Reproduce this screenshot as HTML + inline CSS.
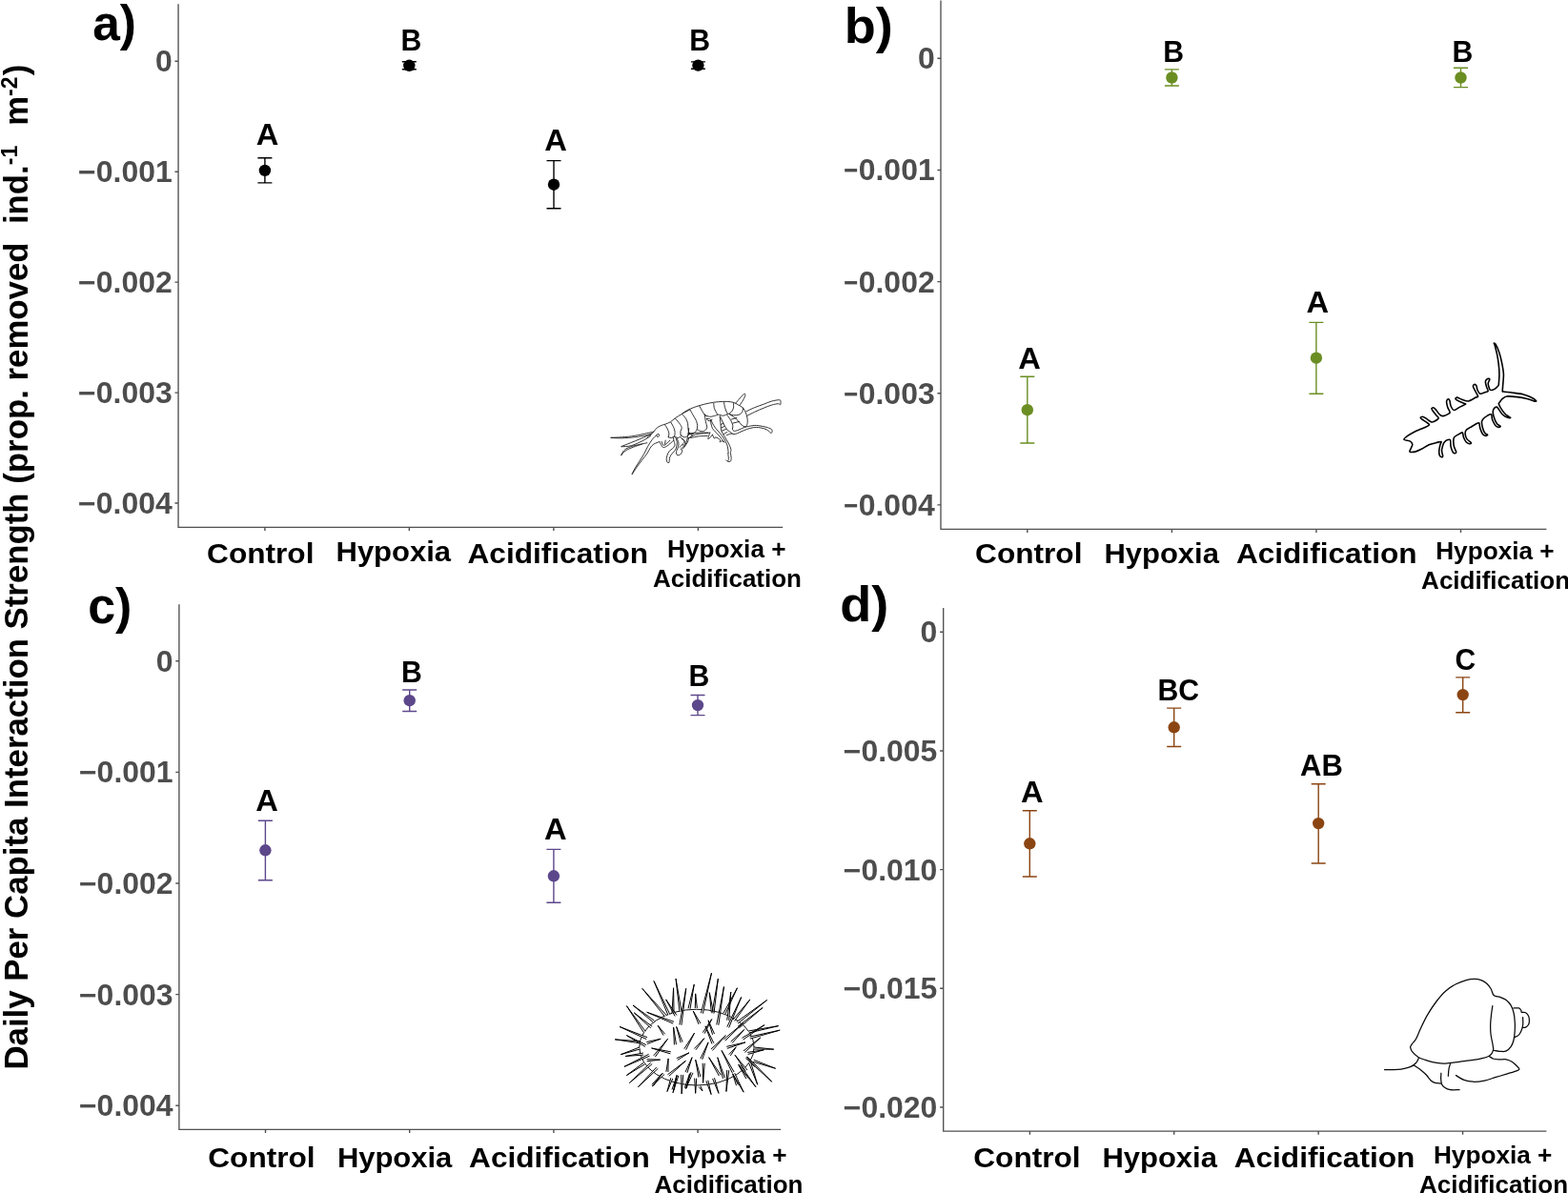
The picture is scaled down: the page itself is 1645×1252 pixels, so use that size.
<!DOCTYPE html>
<html lang="en"><head><meta charset="utf-8"><title>Figure</title>
<style>
html,body{margin:0;padding:0;background:#fff;}
body{width:1645px;height:1252px;overflow:hidden;position:relative;}
svg{position:absolute;left:0;top:0;display:block;}
svg text{font-family:"Liberation Sans",Arial,Helvetica,sans-serif;font-weight:bold;}
</style></head><body>
<svg width="1645" height="1252" viewBox="0 0 1645 1252">
<g><path d="M187.05,4.3V553.35H821.2" fill="none" stroke="#505050" stroke-width="1.35"/>
<path d="M183.45000000000002,64.3H187.05M183.45000000000002,180.2H187.05M183.45000000000002,296.1H187.05M183.45000000000002,412.1H187.05M183.45000000000002,528.05H187.05M277.9,553.35V556.95M429.35,553.35V556.95M580.85,553.35V556.95M732.4,553.35V556.95" fill="none" stroke="#505050" stroke-width="1.4"/>
<text transform="translate(180.75,75.30) scale(1.045,1)" font-size="30.6" text-anchor="end" fill="#4d4d4d">0</text>
<text transform="translate(180.75,191.20) scale(1.045,1)" font-size="30.6" text-anchor="end" fill="#4d4d4d">−0.001</text>
<text transform="translate(180.75,307.10) scale(1.045,1)" font-size="30.6" text-anchor="end" fill="#4d4d4d">−0.002</text>
<text transform="translate(180.75,423.10) scale(1.045,1)" font-size="30.6" text-anchor="end" fill="#4d4d4d">−0.003</text>
<text transform="translate(180.75,539.05) scale(1.045,1)" font-size="30.6" text-anchor="end" fill="#4d4d4d">−0.004</text>
<text transform="translate(273.25,590.85) scale(1.05,1)" font-size="30.1" text-anchor="middle" fill="#000">Control</text>
<text transform="translate(412.75,589.10) scale(1.029,1)" font-size="30.1" text-anchor="middle" fill="#000">Hypoxia</text>
<text transform="translate(585.35,591.00) scale(1.05,1)" font-size="30.1" text-anchor="middle" fill="#000">Acidification</text>
<text transform="translate(762.30,584.70) scale(1.048,1)" font-size="25" text-anchor="middle" fill="#000">Hypoxia +</text>
<text transform="translate(763.00,615.50) scale(1.04,1)" font-size="25" text-anchor="middle" fill="#000">Acidification</text>
<path d="M277.9,165.8V191.9M270.4,165.8H285.4M270.4,191.9H285.4" fill="none" stroke="#000000" stroke-width="1.4"/>
<circle cx="277.9" cy="178.9" r="6.2" fill="#000000"/>
<path d="M429.3,64.8V72.7M421.8,64.8H436.8M421.8,72.7H436.8" fill="none" stroke="#000000" stroke-width="1.4"/>
<circle cx="429.3" cy="68.8" r="6.2" fill="#000000"/>
<path d="M581.0,168.6V218.7M573.5,168.6H588.5M573.5,218.7H588.5" fill="none" stroke="#000000" stroke-width="1.4"/>
<circle cx="581.0" cy="193.7" r="6.2" fill="#000000"/>
<path d="M732.4,64.9V72.2M724.9,64.9H739.9M724.9,72.2H739.9" fill="none" stroke="#000000" stroke-width="1.4"/>
<circle cx="732.4" cy="68.6" r="6.2" fill="#000000"/>
<text transform="translate(280.50,151.60) scale(1.055,1)" font-size="31.0" text-anchor="middle" fill="#000">A</text>
<text transform="translate(431.35,53.40) scale(0.975,1)" font-size="31.0" text-anchor="middle" fill="#000">B</text>
<text transform="translate(583.00,158.00) scale(1.055,1)" font-size="31.0" text-anchor="middle" fill="#000">A</text>
<text transform="translate(734.05,53.20) scale(0.975,1)" font-size="31.0" text-anchor="middle" fill="#000">B</text>
<text transform="translate(97.25,42.35) scale(0.98,1)" font-size="52.5" text-anchor="start" fill="#000">a)</text></g>
<g><path d="M987.0,0.4V555.3H1622.4" fill="none" stroke="#505050" stroke-width="1.35"/>
<path d="M983.4,61.3H987.0M983.4,178.45H987.0M983.4,295.6H987.0M983.4,412.75H987.0M983.4,529.9H987.0M1077.8,555.3V558.9M1229.4,555.3V558.9M1380.95,555.3V558.9M1532.5,555.3V558.9" fill="none" stroke="#505050" stroke-width="1.4"/>
<text transform="translate(980.70,72.30) scale(1.045,1)" font-size="30.6" text-anchor="end" fill="#4d4d4d">0</text>
<text transform="translate(980.70,189.45) scale(1.045,1)" font-size="30.6" text-anchor="end" fill="#4d4d4d">−0.001</text>
<text transform="translate(980.70,306.60) scale(1.045,1)" font-size="30.6" text-anchor="end" fill="#4d4d4d">−0.002</text>
<text transform="translate(980.70,423.75) scale(1.045,1)" font-size="30.6" text-anchor="end" fill="#4d4d4d">−0.003</text>
<text transform="translate(980.70,540.90) scale(1.045,1)" font-size="30.6" text-anchor="end" fill="#4d4d4d">−0.004</text>
<rect x="874.2" y="158.45" width="12" height="391.45" fill="#fff"/>
<text transform="translate(1079.25,591.45) scale(1.05,1)" font-size="30.1" text-anchor="middle" fill="#000">Control</text>
<text transform="translate(1218.70,591.10) scale(1.029,1)" font-size="30.1" text-anchor="middle" fill="#000">Hypoxia</text>
<text transform="translate(1391.70,591.40) scale(1.05,1)" font-size="30.1" text-anchor="middle" fill="#000">Acidification</text>
<text transform="translate(1568.40,586.60) scale(1.048,1)" font-size="25" text-anchor="middle" fill="#000">Hypoxia +</text>
<text transform="translate(1569.10,617.60) scale(1.04,1)" font-size="25" text-anchor="middle" fill="#000">Acidification</text>
<path d="M1077.8,395.3V465.0M1070.3,395.3H1085.3M1070.3,465.0H1085.3" fill="none" stroke="#6b8e23" stroke-width="1.4"/>
<circle cx="1077.8" cy="430.2" r="6.2" fill="#6b8e23"/>
<path d="M1229.4,72.9V90.0M1221.9,72.9H1236.9M1221.9,90.0H1236.9" fill="none" stroke="#6b8e23" stroke-width="1.4"/>
<circle cx="1229.4" cy="81.5" r="6.2" fill="#6b8e23"/>
<path d="M1380.9,338.4V413.3M1373.4,338.4H1388.4M1373.4,413.3H1388.4" fill="none" stroke="#6b8e23" stroke-width="1.4"/>
<circle cx="1380.9" cy="375.7" r="6.2" fill="#6b8e23"/>
<path d="M1532.5,71.3V91.6M1525.0,71.3H1540.0M1525.0,91.6H1540.0" fill="none" stroke="#6b8e23" stroke-width="1.4"/>
<circle cx="1532.5" cy="81.5" r="6.2" fill="#6b8e23"/>
<text transform="translate(1080.10,386.80) scale(1.055,1)" font-size="31.0" text-anchor="middle" fill="#000">A</text>
<text transform="translate(1231.10,64.50) scale(0.975,1)" font-size="31.0" text-anchor="middle" fill="#000">B</text>
<text transform="translate(1382.35,328.00) scale(1.055,1)" font-size="31.0" text-anchor="middle" fill="#000">A</text>
<text transform="translate(1534.30,64.50) scale(0.975,1)" font-size="31.0" text-anchor="middle" fill="#000">B</text>
<text transform="translate(885.70,44.80) scale(1.03,1)" font-size="52.5" text-anchor="start" fill="#000">b)</text></g>
<g><path d="M187.9,634.3V1185.35H819.2" fill="none" stroke="#505050" stroke-width="1.35"/>
<path d="M184.3,693.8H187.9M184.3,810.4H187.9M184.3,927.0H187.9M184.3,1043.6H187.9M184.3,1160.2H187.9M278.5,1185.35V1188.9499999999998M429.7,1185.35V1188.9499999999998M580.9,1185.35V1188.9499999999998M732.1,1185.35V1188.9499999999998" fill="none" stroke="#505050" stroke-width="1.4"/>
<text transform="translate(181.60,704.80) scale(1.045,1)" font-size="30.6" text-anchor="end" fill="#4d4d4d">0</text>
<text transform="translate(181.60,821.40) scale(1.045,1)" font-size="30.6" text-anchor="end" fill="#4d4d4d">−0.001</text>
<text transform="translate(181.60,938.00) scale(1.045,1)" font-size="30.6" text-anchor="end" fill="#4d4d4d">−0.002</text>
<text transform="translate(181.60,1054.60) scale(1.045,1)" font-size="30.6" text-anchor="end" fill="#4d4d4d">−0.003</text>
<text transform="translate(181.60,1171.20) scale(1.045,1)" font-size="30.6" text-anchor="end" fill="#4d4d4d">−0.004</text>
<text transform="translate(274.45,1225.05) scale(1.05,1)" font-size="30.1" text-anchor="middle" fill="#000">Control</text>
<text transform="translate(414.10,1224.70) scale(1.029,1)" font-size="30.1" text-anchor="middle" fill="#000">Hypoxia</text>
<text transform="translate(586.90,1225.00) scale(1.05,1)" font-size="30.1" text-anchor="middle" fill="#000">Acidification</text>
<text transform="translate(763.45,1220.60) scale(1.048,1)" font-size="25" text-anchor="middle" fill="#000">Hypoxia +</text>
<text transform="translate(764.45,1251.70) scale(1.04,1)" font-size="25" text-anchor="middle" fill="#000">Acidification</text>
<path d="M278.4,861.2V923.8M270.9,861.2H285.9M270.9,923.8H285.9" fill="none" stroke="#5d478b" stroke-width="1.4"/>
<circle cx="278.4" cy="892.3" r="6.2" fill="#5d478b"/>
<path d="M429.7,724.0V746.5M422.2,724.0H437.2M422.2,746.5H437.2" fill="none" stroke="#5d478b" stroke-width="1.4"/>
<circle cx="429.7" cy="735.2" r="6.2" fill="#5d478b"/>
<path d="M580.9,891.4V947.2M573.4,891.4H588.4M573.4,947.2H588.4" fill="none" stroke="#5d478b" stroke-width="1.4"/>
<circle cx="580.9" cy="919.3" r="6.2" fill="#5d478b"/>
<path d="M732.0,729.5V750.6M724.5,729.5H739.5M724.5,750.6H739.5" fill="none" stroke="#5d478b" stroke-width="1.4"/>
<circle cx="732.0" cy="740.1" r="6.2" fill="#5d478b"/>
<text transform="translate(280.10,850.90) scale(1.055,1)" font-size="31.0" text-anchor="middle" fill="#000">A</text>
<text transform="translate(432.00,715.65) scale(0.975,1)" font-size="31.0" text-anchor="middle" fill="#000">B</text>
<text transform="translate(582.75,881.40) scale(1.055,1)" font-size="31.0" text-anchor="middle" fill="#000">A</text>
<text transform="translate(733.40,720.10) scale(0.975,1)" font-size="31.0" text-anchor="middle" fill="#000">B</text>
<text transform="translate(92.20,654.25) scale(0.99,1)" font-size="52.5" text-anchor="start" fill="#000">c)</text></g>
<g><path d="M989.7,638.1V1187.05H1622.4" fill="none" stroke="#505050" stroke-width="1.35"/>
<path d="M986.1,663.3H989.7M986.1,788.0H989.7M986.1,912.65H989.7M986.1,1037.3H989.7M986.1,1162.0H989.7M1080.4,1187.05V1190.6499999999999M1231.75,1187.05V1190.6499999999999M1383.15,1187.05V1190.6499999999999M1534.55,1187.05V1190.6499999999999" fill="none" stroke="#505050" stroke-width="1.4"/>
<text transform="translate(983.40,674.30) scale(1.045,1)" font-size="30.6" text-anchor="end" fill="#4d4d4d">0</text>
<text transform="translate(983.40,799.00) scale(1.045,1)" font-size="30.6" text-anchor="end" fill="#4d4d4d">−0.005</text>
<text transform="translate(983.40,923.65) scale(1.045,1)" font-size="30.6" text-anchor="end" fill="#4d4d4d">−0.010</text>
<text transform="translate(983.40,1048.30) scale(1.045,1)" font-size="30.6" text-anchor="end" fill="#4d4d4d">−0.015</text>
<text transform="translate(983.40,1173.00) scale(1.045,1)" font-size="30.6" text-anchor="end" fill="#4d4d4d">−0.020</text>
<text transform="translate(1077.45,1225.05) scale(1.05,1)" font-size="30.1" text-anchor="middle" fill="#000">Control</text>
<text transform="translate(1216.70,1224.70) scale(1.029,1)" font-size="30.1" text-anchor="middle" fill="#000">Hypoxia</text>
<text transform="translate(1389.50,1224.80) scale(1.05,1)" font-size="30.1" text-anchor="middle" fill="#000">Acidification</text>
<text transform="translate(1566.15,1220.60) scale(1.048,1)" font-size="25" text-anchor="middle" fill="#000">Hypoxia +</text>
<text transform="translate(1567.05,1251.90) scale(1.04,1)" font-size="25" text-anchor="middle" fill="#000">Acidification</text>
<path d="M1080.3,850.7V920.0M1072.8,850.7H1087.8M1072.8,920.0H1087.8" fill="none" stroke="#8b4513" stroke-width="1.4"/>
<circle cx="1080.3" cy="885.3" r="6.2" fill="#8b4513"/>
<path d="M1231.7,743.1V783.45M1224.2,743.1H1239.2M1224.2,783.45H1239.2" fill="none" stroke="#8b4513" stroke-width="1.4"/>
<circle cx="1231.7" cy="763.3" r="6.2" fill="#8b4513"/>
<path d="M1383.2,822.8V906.0M1375.7,822.8H1390.7M1375.7,906.0H1390.7" fill="none" stroke="#8b4513" stroke-width="1.4"/>
<circle cx="1383.2" cy="864.1" r="6.2" fill="#8b4513"/>
<path d="M1534.7,710.9V747.8M1527.2,710.9H1542.2M1527.2,747.8H1542.2" fill="none" stroke="#8b4513" stroke-width="1.4"/>
<circle cx="1534.7" cy="729.1" r="6.2" fill="#8b4513"/>
<text transform="translate(1082.90,842.35) scale(1.055,1)" font-size="31.0" text-anchor="middle" fill="#000">A</text>
<text transform="translate(1236.30,734.90) scale(0.975,1)" font-size="31.0" text-anchor="middle" fill="#000">BC</text>
<text transform="translate(1386.50,813.60) scale(1.0,1)" font-size="31.0" text-anchor="middle" fill="#000">AB</text>
<text transform="translate(1537.25,702.90) scale(0.97,1)" font-size="31.0" text-anchor="middle" fill="#000">C</text>
<text transform="translate(881.20,652.20) scale(1.03,1)" font-size="52.5" text-anchor="start" fill="#000">d)</text></g>
<text transform="translate(28.7,1122.6) rotate(-90)" font-size="34.8" fill="#000" xml:space="preserve" style="white-space:pre">Daily Per Capita Interaction Strength (prop. removed  ind.<tspan font-size="23" dy="-10.7">-1</tspan><tspan dy="10.7" dx="1.6">  m</tspan><tspan font-size="23" dy="-10.7">-2</tspan><tspan dy="10.7" dx="1.2">)</tspan></text>
<g><path d="M678.80,459.42C679.46,458.86 681.64,457.14 682.81,456.08C683.98,455.02 684.70,454.30 685.82,453.07C686.93,451.84 688.10,449.84 689.49,448.72C690.89,447.61 692.73,447.00 694.17,446.38C695.62,445.77 696.63,445.66 698.19,445.05C699.75,444.43 701.81,443.76 703.54,442.70C705.26,441.65 706.54,440.09 708.55,438.69C710.56,437.30 713.06,435.80 715.57,434.35C718.08,432.90 722.26,430.72 723.60,430.00 M685.82,453.07C684.20,453.44 679.97,454.48 676.12,455.28C672.28,456.07 667.20,457.20 662.75,457.82C658.29,458.43 653.00,458.72 649.37,458.95C645.75,459.19 642.41,459.18 641.02,459.22 M641.02,459.42C642.97,459.49 648.54,459.93 652.72,459.82C656.90,459.71 661.74,459.29 666.09,458.75C670.44,458.22 676.01,457.17 678.80,456.61C681.58,456.06 682.14,455.61 682.81,455.41 M684.14,454.87C682.14,455.80 675.90,458.78 672.11,460.42C668.32,462.07 664.75,463.43 661.41,464.77C658.07,466.11 653.61,467.84 652.05,468.45 M652.05,468.78C653.83,468.58 658.73,468.78 662.75,467.58C666.76,466.38 672.78,463.31 676.12,461.56C679.46,459.81 681.69,457.83 682.81,457.08 M678.80,464.77C676.68,465.24 669.55,466.67 666.09,467.58C662.64,468.49 660.13,469.22 658.07,470.25C656.00,471.29 654.78,472.54 653.72,473.80C652.66,475.06 652.05,477.14 651.71,477.81 M651.91,477.61C652.61,476.86 654.03,474.51 656.06,473.13C658.09,471.75 661.19,470.49 664.08,469.32C666.98,468.15 671.89,466.64 673.45,466.11 M689.16,456.21C688.32,457.08 685.76,459.33 684.14,461.43C682.53,463.52 680.91,466.22 679.46,468.78C678.01,471.35 676.90,474.24 675.45,476.81C674.00,479.37 672.33,481.71 670.77,484.16C669.21,486.61 667.37,489.29 666.09,491.52C664.81,493.75 663.58,496.53 663.08,497.54 M663.42,497.40C664.20,496.20 666.42,492.61 668.10,490.18C669.77,487.75 671.66,485.17 673.45,482.83C675.23,480.48 677.35,478.26 678.80,476.14C680.24,474.02 680.97,471.79 682.14,470.12C683.31,468.45 684.20,467.19 685.82,466.11C687.43,465.03 690.83,464.05 691.83,463.63 M692.17,463.97C692.61,464.77 694.06,467.87 694.84,468.78C695.62,469.70 695.96,469.62 696.85,469.45C697.74,469.28 698.58,468.95 700.19,467.78C701.81,466.61 705.49,463.32 706.54,462.43 M694.17,463.43C694.56,464.10 695.07,467.67 696.51,467.45C697.96,467.22 701.81,462.99 702.87,462.10 M698.19,462.10L697.52,466.11 M697.52,445.71C697.96,446.44 699.47,448.56 700.19,450.06C700.92,451.56 701.70,453.29 701.86,454.74C702.03,456.19 701.31,458.08 701.20,458.75 M703.87,443.37C704.26,444.04 705.54,445.94 706.21,447.39C706.88,448.83 707.60,450.51 707.88,452.07C708.16,453.63 708.05,455.69 707.88,456.75C707.72,457.81 707.05,458.14 706.88,458.42 M708.55,439.36C709.39,440.36 712.45,443.71 713.57,445.38C714.68,447.05 715.18,448.17 715.24,449.39C715.29,450.62 714.07,451.51 713.90,452.73C713.73,453.96 714.18,456.08 714.23,456.75 M715.24,434.35C715.96,435.18 718.53,437.63 719.58,439.36C720.64,441.09 721.20,442.93 721.59,444.71C721.98,446.49 721.70,448.44 721.92,450.06C722.15,451.68 722.76,453.68 722.93,454.41 M701.20,458.75C701.70,458.89 703.09,459.67 704.20,459.56C705.32,459.44 706.77,458.08 707.88,458.08C709.00,458.08 709.83,459.56 710.89,459.56C711.95,459.56 713.68,458.33 714.23,458.08 M714.23,456.75C714.90,457.10 716.91,458.89 718.25,458.89C719.58,458.89 721.48,457.49 722.26,456.75C723.04,456.00 722.82,454.80 722.93,454.41 M722.93,454.41C723.60,454.60 725.60,456.04 726.94,455.54C728.28,455.04 730.28,452.09 730.95,451.40 M706.21,459.42C706.38,460.09 706.94,462.10 707.21,463.43C707.49,464.77 708.16,466.22 707.88,467.45C707.60,468.67 706.49,469.79 705.54,470.79C704.59,471.79 703.15,472.24 702.20,473.46C701.25,474.69 700.36,476.58 699.86,478.14C699.36,479.70 699.13,481.65 699.19,482.83C699.25,484.00 699.75,484.72 700.19,485.17C700.64,485.61 701.53,485.78 701.86,485.50C702.20,485.22 702.03,484.50 702.20,483.49C702.37,482.49 702.31,480.82 702.87,479.48C703.42,478.14 704.59,476.70 705.54,475.47C706.49,474.24 707.83,473.35 708.55,472.13C709.28,470.90 709.61,469.56 709.89,468.11C710.17,466.67 710.39,464.88 710.22,463.43C710.06,461.98 709.11,460.09 708.89,459.42 M710.22,460.09C710.50,460.87 711.67,463.32 711.89,464.77C712.12,466.22 711.89,467.45 711.56,468.78C711.23,470.12 710.22,471.57 709.89,472.80C709.55,474.02 709.39,475.30 709.55,476.14C709.72,476.97 710.22,477.64 710.89,477.81C711.56,477.98 712.84,477.64 713.57,477.14C714.29,476.64 714.90,475.64 715.24,474.80C715.57,473.97 715.74,472.71 715.57,472.13C715.40,471.55 714.12,471.77 714.23,471.32C714.35,470.88 715.35,470.21 716.24,469.45C717.13,468.69 718.64,467.89 719.58,466.78C720.53,465.66 721.48,463.99 721.92,462.76C722.37,461.54 722.20,459.98 722.26,459.42 M714.23,459.42C714.85,460.09 717.69,462.21 717.91,463.43C718.14,464.66 716.41,465.77 715.57,466.78C714.74,467.78 713.34,469.01 712.90,469.45 M722.26,455.41C722.93,455.63 726.16,456.02 726.27,456.75C726.38,457.47 723.48,459.25 722.93,459.76 M716.00,433.74C717.23,433.02 720.46,430.73 723.36,429.40C726.25,428.06 729.93,426.78 733.39,425.72C736.84,424.66 740.74,423.71 744.08,423.05C747.43,422.38 750.33,421.99 753.45,421.71C756.57,421.43 760.13,421.26 762.81,421.37C765.48,421.48 767.60,421.82 769.49,422.38C771.39,422.93 772.50,423.77 774.17,424.72C775.85,425.66 778.19,426.72 779.52,428.06C780.86,429.40 781.47,431.07 782.20,432.74C782.92,434.41 783.54,436.31 783.87,438.09C784.20,439.87 784.37,441.88 784.20,443.44C784.04,445.00 783.54,446.67 782.87,447.45C782.20,448.23 780.64,448.01 780.19,448.12 M771.83,423.05C772.56,422.21 774.73,419.65 776.18,418.03C777.63,416.41 779.58,413.91 780.53,413.35C781.47,412.79 782.03,413.57 781.86,414.69C781.70,415.80 780.47,418.31 779.52,420.04C778.58,421.76 776.74,424.22 776.18,425.05 M782.87,431.74C784.32,431.07 788.44,429.01 791.56,427.73C794.68,426.44 798.58,425.16 801.59,424.05C804.60,422.93 806.94,421.76 809.61,421.04C812.29,420.31 816.08,419.65 817.64,419.70C819.20,419.76 818.81,420.54 818.98,421.37C819.14,422.21 819.09,424.33 818.64,424.72C818.20,425.11 817.81,423.66 816.30,423.71C814.80,423.77 812.07,424.33 809.61,425.05C807.16,425.78 804.60,426.83 801.59,428.06C798.58,429.29 794.57,431.01 791.56,432.41C788.55,433.80 784.87,435.75 783.54,436.42 M782.20,448.12C783.31,447.90 786.99,447.06 788.89,446.78C790.78,446.50 791.67,446.34 793.57,446.45C795.46,446.56 798.25,447.06 800.25,447.45C802.26,447.84 804.04,448.23 805.60,448.79C807.16,449.35 808.89,450.01 809.61,450.80C810.34,451.58 810.12,452.86 809.95,453.47C809.78,454.08 809.22,454.70 808.61,454.47C808.00,454.25 807.44,452.91 806.27,452.13C805.10,451.35 803.71,450.40 801.59,449.79C799.47,449.18 796.02,448.51 793.57,448.45C791.11,448.40 789.11,448.90 786.88,449.46C784.65,450.01 782.76,450.80 780.19,451.80C777.63,452.80 773.73,454.92 771.50,455.48C769.27,456.03 768.38,454.92 766.82,455.14C765.26,455.36 762.92,456.53 762.14,456.81 M724.02,430.07C724.58,431.07 726.31,434.19 727.37,436.08C728.43,437.98 729.65,439.65 730.38,441.43C731.10,443.22 731.60,445.22 731.71,446.78C731.83,448.34 731.16,450.13 731.05,450.80 M733.72,426.05C734.22,426.95 735.78,429.84 736.73,431.40C737.68,432.96 738.62,434.52 739.40,435.42C740.18,436.31 741.08,436.53 741.41,436.75 M739.07,434.75C739.29,436.08 739.96,440.54 740.41,442.77C740.85,445.00 741.80,446.67 741.74,448.12C741.69,449.57 741.02,450.68 740.07,451.46C739.12,452.24 737.45,452.91 736.06,452.80C734.67,452.69 732.44,451.13 731.71,450.80 M748.76,423.38C748.88,424.27 748.93,427.06 749.43,428.73C749.94,430.40 751.22,432.30 751.77,433.41C752.33,434.52 752.61,435.08 752.78,435.42 M759.46,422.04C759.63,422.93 760.02,425.72 760.47,427.39C760.91,429.06 761.64,430.96 762.14,432.07C762.64,433.19 763.25,433.74 763.48,434.08 M769.49,422.71C769.49,423.60 769.83,426.50 769.49,428.06C769.16,429.62 768.38,431.01 767.49,432.07C766.60,433.13 764.70,434.02 764.14,434.41 M779.52,428.06C779.36,428.84 779.30,431.51 778.52,432.74C777.74,433.97 776.35,434.91 774.84,435.42C773.34,435.92 771.05,435.86 769.49,435.75C767.93,435.64 766.15,434.91 765.48,434.75 M739.40,435.42C740.30,435.73 742.86,437.18 744.75,437.29C746.65,437.40 749.32,436.45 750.77,436.08C752.22,435.72 752.11,435.06 753.45,435.08C754.78,435.10 757.12,436.36 758.80,436.22C760.47,436.07 762.70,434.55 763.48,434.21 M765.48,434.75C766.15,435.19 768.05,436.31 769.49,437.42C770.94,438.54 772.73,439.98 774.17,441.43C775.62,442.88 776.90,445.00 778.19,446.11C779.47,447.23 781.25,447.79 781.86,448.12 M762.81,435.42C763.48,436.42 765.82,439.54 766.82,441.43C767.82,443.33 768.55,445.22 768.83,446.78C769.10,448.34 768.05,449.88 768.49,450.80C768.94,451.71 769.55,452.58 771.50,452.27C773.45,451.95 778.74,449.48 780.19,448.92 M767.49,440.10L772.84,438.42 M768.83,444.11L775.51,442.44 M755.45,436.75C756.01,437.98 757.57,441.77 758.80,444.11C760.02,446.45 761.25,449.01 762.81,450.80C764.37,452.58 767.26,454.14 768.16,454.81 M741.41,439.43C742.08,439.54 744.42,439.32 745.42,440.10C746.42,440.88 746.54,442.55 747.43,444.11C748.32,445.67 749.43,447.67 750.77,449.46C752.11,451.24 754.00,453.02 755.45,454.81C756.90,456.59 758.24,458.15 759.46,460.16C760.69,462.16 762.03,464.39 762.81,466.84C763.59,469.29 763.99,473.44 764.14,474.87C764.30,476.29 763.70,474.28 763.74,475.38C763.77,476.48 764.39,480.04 764.35,481.46C764.31,482.88 763.90,483.65 763.50,483.89C763.09,484.13 762.18,483.08 761.91,482.92 M755.12,437.42C755.28,438.76 755.84,442.99 756.12,445.45C756.40,447.90 756.12,450.01 756.79,452.13C757.46,454.25 758.91,456.03 760.13,458.15C761.36,460.27 763.03,462.61 764.14,464.84C765.26,467.07 766.44,469.77 766.82,471.52C767.20,473.28 766.36,473.93 766.41,475.38C766.47,476.83 767.14,478.78 767.14,480.24C767.14,481.70 766.98,483.44 766.41,484.13C765.85,484.82 764.18,484.34 763.74,484.38 M741.41,439.43C741.63,439.76 741.97,441.10 742.75,441.43C743.53,441.77 745.42,441.66 746.09,441.43C746.76,441.21 746.65,440.32 746.76,440.10 M745.42,441.43C745.76,442.77 746.09,447.01 747.43,449.46C748.76,451.91 751.44,453.80 753.45,456.14C755.45,458.48 758.46,462.27 759.46,463.50 M756.12,445.45L758.80,444.44 M756.79,448.79L760.13,447.45 M757.46,452.13L761.47,450.46 M759.46,455.48L762.81,453.47 M722.69,454.81C724.36,454.70 729.37,454.25 732.72,454.14C736.06,454.03 741.08,454.14 742.75,454.14 M722.02,460.16C723.24,459.49 726.70,457.04 729.37,456.14C732.05,455.25 735.50,455.14 738.07,454.81C740.63,454.47 743.64,454.25 744.75,454.14 M724.69,459.49C726.14,459.21 730.49,458.15 733.39,457.82C736.28,457.48 740.63,457.54 742.08,457.48 M744.75,454.14C744.42,455.20 742.64,459.71 742.75,460.49C742.86,461.27 744.64,459.54 745.42,458.82C746.20,458.09 747.09,456.59 747.43,456.14 M747.43,456.14C747.76,456.81 748.88,459.71 749.43,460.16C749.99,460.60 749.77,458.60 750.77,458.82C751.77,459.04 754.73,460.66 755.45,461.49C756.18,462.33 754.78,463.61 755.12,463.83C755.45,464.06 756.62,462.78 757.46,462.83C758.29,462.89 759.69,463.95 760.13,464.17 M716.00,460.16C716.45,460.71 718.34,462.39 718.67,463.50C719.01,464.61 718.45,466.29 718.01,466.84C717.56,467.40 716.33,466.84 716.00,466.84 M722.69,449.46C722.46,451.02 722.02,455.70 721.35,458.82C720.68,461.94 719.57,466.17 718.67,468.18C717.78,470.19 716.45,470.41 716.00,470.86" fill="none" stroke="#111" stroke-width="0.85" stroke-linecap="round" stroke-linejoin="round"/><ellipse cx="690.30" cy="456.95" rx="1.1" ry="1.6" transform="rotate(25 690.30 456.95)" fill="#fff" stroke="#111" stroke-width="0.8"/></g>
<g><path d="M1472.86,461.25C1472.54,460.45 1475.25,458.45 1476.77,457.33C1478.29,456.22 1481.40,454.46 1483.48,453.42C1485.56,452.38 1489.07,451.11 1491.31,450.07C1493.54,449.03 1498.33,447.11 1499.13,446.15C1499.93,445.20 1497.93,444.24 1496.90,443.36C1495.86,442.48 1492.82,440.72 1491.86,440.00C1490.91,439.29 1490.11,438.73 1490.19,438.33C1490.27,437.93 1491.63,437.13 1492.42,437.21C1493.22,437.29 1494.50,438.09 1495.78,438.89C1497.06,439.69 1500.09,442.32 1501.37,442.80C1502.65,443.28 1503.60,442.80 1504.72,442.24C1505.84,441.68 1508.88,439.76 1509.19,438.89C1509.51,438.01 1507.84,437.21 1506.96,436.09C1506.08,434.97 1503.76,432.10 1503.05,431.06C1502.33,430.02 1501.85,429.30 1501.93,428.82C1502.01,428.34 1503.05,427.63 1503.60,427.71C1504.16,427.79 1504.88,428.34 1505.84,429.38C1506.80,430.42 1509.19,433.93 1510.31,434.97C1511.43,436.01 1512.23,436.81 1513.67,436.65C1515.10,436.49 1519.34,434.49 1520.38,433.86C1521.41,433.22 1521.17,433.14 1520.93,432.18C1520.70,431.22 1519.18,428.66 1518.70,427.15C1518.22,425.63 1517.50,422.75 1517.58,421.56C1517.66,420.36 1518.78,418.92 1519.26,418.76C1519.74,418.60 1520.54,419.40 1520.93,420.44C1521.33,421.48 1521.41,424.59 1522.05,426.03C1522.69,427.47 1524.05,430.34 1525.41,430.50C1526.76,430.66 1529.88,428.03 1531.56,427.15C1533.23,426.27 1536.35,424.83 1537.15,424.35C1537.95,423.87 1537.95,424.19 1537.15,423.79C1536.35,423.39 1532.99,422.28 1531.56,421.56C1530.12,420.84 1527.48,419.40 1527.08,418.76C1526.68,418.12 1527.80,417.00 1528.76,417.08C1529.72,417.16 1532.12,418.76 1533.79,419.32C1535.47,419.88 1538.42,421.32 1540.50,421.00C1542.58,420.68 1546.89,417.80 1548.33,417.08C1549.76,416.37 1550.56,416.76 1550.56,415.97C1550.56,415.17 1549.05,412.93 1548.33,411.49C1547.61,410.06 1545.77,407.05 1545.53,405.90C1545.29,404.75 1546.17,403.60 1546.65,403.44C1547.13,403.28 1548.41,403.95 1548.89,404.79C1549.37,405.62 1549.45,408.06 1550.00,409.26C1550.56,410.46 1551.60,412.85 1552.80,413.17C1554.00,413.49 1557.19,411.89 1558.39,411.49C1559.59,411.09 1561.03,411.17 1561.19,410.38C1561.34,409.58 1559.91,407.34 1559.51,405.90C1559.11,404.47 1558.23,401.51 1558.39,400.31C1558.55,399.12 1559.99,397.84 1560.63,397.52C1561.27,397.20 1562.78,397.36 1562.86,398.08C1562.94,398.80 1561.11,400.95 1561.19,402.55C1561.27,404.15 1562.46,408.43 1563.42,409.26C1564.38,410.09 1566.70,409.00 1567.89,408.36C1569.09,407.72 1571.17,405.62 1571.81,404.79C1572.45,403.95 1572.21,404.31 1572.37,402.55C1572.53,400.79 1572.92,395.20 1572.92,392.49C1572.92,389.77 1572.69,386.42 1572.37,383.54C1572.05,380.67 1571.33,375.56 1570.69,372.36C1570.05,369.17 1568.37,362.91 1567.89,361.18C1567.41,359.46 1567.17,360.29 1567.33,360.29C1567.49,360.29 1568.21,359.78 1569.01,361.18C1569.81,362.59 1571.97,367.25 1572.92,370.13C1573.88,373.00 1575.08,378.11 1575.72,381.31C1576.36,384.50 1577.24,389.45 1577.40,392.49C1577.56,395.52 1577.00,399.99 1576.84,402.55C1576.68,405.10 1576.20,409.18 1576.28,410.38C1576.36,411.57 1575.96,410.70 1577.40,410.93C1578.83,411.17 1583.47,411.65 1586.34,412.05C1589.22,412.45 1594.81,413.09 1597.52,413.73C1600.24,414.37 1603.35,415.57 1605.35,416.53C1607.35,417.48 1610.86,419.78 1611.50,420.44C1612.14,421.09 1611.18,421.40 1609.82,421.11C1608.46,420.82 1604.55,419.06 1601.99,418.43C1599.44,417.79 1594.97,416.99 1591.93,416.64C1588.90,416.29 1582.99,415.71 1580.75,415.97C1578.52,416.22 1577.40,417.47 1576.28,418.43C1575.16,419.38 1573.48,421.88 1572.92,422.67C1572.37,423.47 1572.05,423.06 1572.37,424.02C1572.69,424.97 1574.12,427.82 1575.16,429.38C1576.20,430.95 1578.28,433.70 1579.63,434.97C1580.99,436.25 1584.35,437.85 1584.66,438.33C1584.98,438.81 1583.07,438.81 1581.87,438.33C1580.67,437.85 1577.72,436.33 1576.28,434.97C1574.84,433.62 1572.69,429.94 1571.81,428.82C1570.93,427.71 1570.77,427.15 1570.13,427.15C1569.49,427.15 1567.89,428.03 1567.33,428.82C1566.78,429.62 1566.14,431.22 1566.22,432.74C1566.30,434.25 1567.25,437.69 1567.89,439.45C1568.53,441.20 1569.81,443.92 1570.69,445.04C1571.57,446.15 1573.80,446.79 1574.04,447.27C1574.28,447.75 1573.08,448.47 1572.37,448.39C1571.65,448.31 1569.97,447.83 1569.01,446.71C1568.05,445.59 1566.30,442.24 1565.66,440.56C1565.02,438.89 1565.26,435.61 1564.54,434.97C1563.82,434.33 1561.82,435.45 1560.63,436.09C1559.43,436.73 1557.03,438.49 1556.15,439.45C1555.28,440.40 1554.56,441.36 1554.48,442.80C1554.40,444.24 1555.12,447.83 1555.59,449.51C1556.07,451.19 1557.11,453.58 1557.83,454.54C1558.55,455.50 1560.47,455.82 1560.63,456.22C1560.79,456.62 1559.67,457.41 1558.95,457.33C1558.23,457.25 1556.47,456.78 1555.59,455.66C1554.72,454.54 1553.36,451.19 1552.80,449.51C1552.24,447.83 1552.32,444.56 1551.68,443.92C1551.04,443.28 1549.61,444.40 1548.33,445.04C1547.05,445.67 1544.17,447.51 1542.74,448.39C1541.30,449.27 1539.06,450.23 1538.26,451.19C1537.47,452.14 1537.07,453.74 1537.15,455.10C1537.23,456.46 1537.95,459.33 1538.82,460.69C1539.70,462.05 1542.90,463.88 1543.30,464.60C1543.70,465.32 1542.34,465.80 1541.62,465.72C1540.90,465.64 1539.14,465.00 1538.26,464.04C1537.39,463.08 1536.03,460.45 1535.47,459.01C1534.91,457.57 1534.91,454.54 1534.35,453.98C1533.79,453.42 1532.75,454.46 1531.56,455.10C1530.36,455.74 1526.92,457.49 1525.97,458.45C1525.01,459.41 1524.93,460.37 1524.85,461.81C1524.77,463.24 1525.01,466.76 1525.41,468.52C1525.81,470.27 1527.48,473.07 1527.64,474.11C1527.80,475.14 1527.00,475.70 1526.53,475.78C1526.05,475.86 1524.93,475.70 1524.29,474.66C1523.65,473.63 1522.45,470.35 1522.05,468.52C1521.65,466.68 1522.05,462.77 1521.49,461.81C1520.93,460.85 1519.02,461.49 1518.14,461.81C1517.26,462.13 1515.98,463.24 1515.34,464.04C1514.71,464.84 1514.07,466.12 1513.67,467.40C1513.27,468.67 1512.55,471.39 1512.55,472.99C1512.55,474.58 1513.67,477.62 1513.67,478.58C1513.67,479.54 1513.03,479.78 1512.55,479.70C1512.07,479.62 1510.71,478.98 1510.31,478.02C1509.91,477.06 1509.67,474.58 1509.75,472.99C1509.83,471.39 1510.55,468.20 1510.87,466.84C1511.19,465.48 1512.55,463.80 1511.99,463.48C1511.43,463.16 1508.80,464.12 1506.96,464.60C1505.12,465.08 1501.37,465.88 1499.13,466.84C1496.90,467.80 1493.38,470.27 1491.31,471.31C1489.23,472.35 1486.35,473.71 1484.60,474.11C1482.84,474.50 1479.65,474.58 1479.01,474.11C1478.37,473.63 1479.73,471.87 1480.13,470.75C1480.52,469.63 1481.96,467.40 1481.80,466.28C1481.64,465.16 1480.28,463.64 1479.01,462.92C1477.73,462.21 1473.18,462.05 1472.86,461.25Z" fill="#fff" stroke="#000" stroke-width="1.6" stroke-linejoin="round"/></g>
<g><ellipse cx="730.91" cy="1099.12" rx="60.18" ry="39.88" fill="none" stroke="#111" stroke-width="1.0"/><path d="M737.39,1063.74L746.47,1021.19L735.38,1063.26M748.96,1063.65L753.40,1027.02L746.91,1063.34M753.82,1075.82L759.48,1035.53L751.78,1075.48M761.02,1063.96L773.47,1036.75L759.17,1063.03M764.77,1070.90L766.78,1041.00L762.71,1070.69M764.68,1078.50L777.72,1046.47L762.79,1077.67M770.63,1071.42L786.84,1048.91L769.00,1070.16M774.09,1074.05L804.71,1049.51L772.84,1072.40M775.33,1078.89L800.21,1057.42L774.03,1077.28M724.02,1058.84L728.24,1033.10L722.00,1058.42M714.91,1075.81L719.73,1037.36L712.87,1075.50M714.91,1060.92L709.03,1027.02L712.87,1061.21M707.02,1063.52L706.60,1036.75L704.95,1063.47M702.68,1064.29L685.93,1029.45L700.79,1065.13M698.87,1065.26L673.77,1037.36L697.30,1066.60M709.91,1065.39L698.69,1048.91L708.14,1066.46M731.34,1057.98L729.70,1042.83L729.27,1058.07M748.35,1062.13L744.29,1041.61L746.30,1062.43M686.56,1071.19L664.04,1054.98L685.29,1072.82M677.05,1082.36L657.36,1055.59L675.35,1083.53M684.16,1077.29L665.26,1062.89L682.83,1078.88M706.97,1072.26L678.63,1062.28L706.22,1074.18M679.04,1088.68L650.06,1077.48L678.23,1090.59M677.91,1096.63L657.36,1086.60L676.92,1098.45M672.06,1092.86L645.20,1090.85L671.83,1094.92M671.01,1098.99L651.28,1106.66L671.66,1100.95M674.85,1105.02L656.14,1108.48L675.12,1107.07M680.63,1106.33L654.92,1119.42L681.50,1108.20M675.62,1114.92L657.36,1128.54L676.78,1116.63M682.81,1115.00L660.40,1136.44L684.18,1116.55M688.84,1119.91L669.51,1140.70L690.31,1121.37M695.50,1126.02L684.10,1140.09L697.03,1127.41M703.80,1131.24L699.91,1145.56L705.75,1131.92M709.85,1128.27L705.99,1146.78L711.85,1128.81M714.68,1127.90L715.11,1147.99L716.75,1127.96M725.09,1125.12L719.36,1142.52L727.01,1125.88M728.66,1131.58L729.70,1147.39L730.73,1131.58M733.08,1140.64L736.99,1144.95L734.83,1139.54M740.86,1134.30L746.11,1148.60L742.85,1133.72M747.56,1131.92L754.01,1147.39L749.52,1131.24M762.71,1122.99L761.91,1145.56L764.77,1123.15M768.90,1127.20L780.15,1146.17L770.73,1126.23M775.07,1118.83L792.92,1140.70L776.72,1117.58M785.86,1116.12L794.74,1138.27L787.81,1115.43M782.47,1110.44L809.70,1135.23L783.91,1108.95M790.15,1114.32L813.59,1121.25L790.82,1112.37M790.43,1101.00L811.76,1101.19L790.55,1098.94M784.62,1106.45L801.43,1101.79L784.19,1104.43M787.09,1090.03L818.21,1081.12L786.59,1088.03M785.83,1083.96L816.63,1076.63L785.42,1081.94M779.49,1091.12L802.04,1075.65L778.38,1089.37M781.43,1104.40L797.78,1089.03L780.09,1102.83M697.72,1085.40L690.18,1076.26L696.02,1086.57M709.45,1096.22L706.60,1078.09L707.39,1096.43M716.09,1093.56L709.64,1077.48L714.13,1094.22M734.88,1073.98L727.26,1061.06L733.03,1074.90M719.65,1101.70L728.48,1084.16L717.86,1100.67M729.88,1101.85L738.81,1089.64L728.30,1100.52M736.73,1111.91L743.07,1093.89L734.82,1111.12M747.46,1102.51L761.31,1086.60L745.97,1101.08M748.88,1094.70L740.03,1076.87L746.98,1095.52M749.51,1085.02L743.07,1070.79L747.57,1085.74M739.10,1084.68L746.72,1069.57L737.31,1083.64M760.79,1092.22L780.15,1073.22L759.40,1090.69M768.12,1094.62L780.76,1080.52L766.66,1093.16M762.80,1100.36L781.98,1093.89L762.24,1098.37M766.37,1107.90L772.25,1098.75L764.75,1106.63M678.92,1095.49L693.22,1090.24L678.34,1093.51M687.36,1109.11L700.52,1090.24L685.71,1107.85M703.80,1103.83L683.50,1099.97L703.31,1105.84M710.72,1112.44L723.01,1104.83L709.76,1110.60M678.68,1113.77L692.61,1112.13L678.59,1111.70M700.94,1124.98L701.12,1110.91L698.88,1124.80M701.79,1129.33L719.36,1113.34L700.46,1127.75M720.93,1125.87L726.05,1109.70L719.01,1125.13M734.96,1130.13L729.70,1112.13L732.94,1130.60M737.17,1115.74L737.60,1136.44L739.24,1115.81M756.11,1128.00L743.68,1109.70L754.35,1129.08M760.47,1131.28L752.80,1109.70L758.49,1131.88M770.12,1125.02L757.05,1102.40L768.30,1125.98M784.02,1123.06L771.03,1107.26L782.36,1124.29M793.06,1118.11L783.19,1109.09L791.56,1119.52M784.68,1131.03L774.68,1116.99L782.92,1132.13M774.42,1138.49L768.60,1126.72L772.51,1139.26M720.36,1142.19L723.62,1126.72L718.37,1141.64M706.98,1144.02L710.24,1128.54L704.99,1143.46M685.52,1139.52L694.44,1126.72L683.90,1138.23" fill="#fff" stroke="#000" stroke-width="1.0" stroke-linejoin="round" stroke-linecap="butt"/></g>
<g><path d="M1479.55,1098.69C1479.85,1098.19 1480.35,1097.09 1481.35,1095.69C1482.35,1094.29 1484.04,1092.99 1485.54,1090.30C1487.04,1087.60 1488.34,1083.71 1490.34,1079.51C1492.33,1075.32 1494.73,1069.92 1497.53,1065.13C1500.32,1060.34 1503.92,1054.94 1507.11,1050.75C1510.31,1046.55 1513.31,1042.96 1516.70,1039.96C1520.10,1036.97 1523.89,1034.67 1527.49,1032.77C1531.08,1030.87 1535.08,1029.48 1538.27,1028.58C1541.47,1027.68 1544.07,1027.38 1546.66,1027.38C1549.26,1027.38 1551.66,1027.78 1553.85,1028.58C1556.05,1029.38 1558.15,1030.67 1559.85,1032.17C1561.54,1033.67 1562.94,1035.67 1564.04,1037.56C1565.14,1039.46 1565.64,1042.26 1566.44,1043.56C1567.24,1044.86 1567.54,1044.86 1568.84,1045.35C1570.13,1045.85 1572.33,1045.85 1574.23,1046.55C1576.13,1047.25 1578.42,1048.15 1580.22,1049.55C1582.02,1050.95 1583.72,1052.75 1585.01,1054.94C1586.31,1057.14 1587.31,1059.84 1588.01,1062.73C1588.71,1065.63 1589.01,1069.12 1589.21,1072.32C1589.41,1075.52 1589.41,1078.71 1589.21,1081.91C1589.01,1085.10 1588.71,1088.70 1588.01,1091.50C1587.31,1094.29 1586.31,1096.79 1585.01,1098.69C1583.72,1100.58 1581.82,1102.08 1580.22,1102.88C1578.62,1103.68 1577.62,1103.58 1575.43,1103.48C1573.23,1103.38 1568.44,1102.48 1567.04,1102.28 M1479.55,1098.69C1479.85,1099.49 1479.95,1101.68 1481.35,1103.48C1482.75,1105.28 1485.24,1107.87 1487.94,1109.47C1490.64,1111.07 1494.33,1112.07 1497.53,1113.07C1500.72,1114.07 1503.92,1114.97 1507.11,1115.47C1510.31,1115.96 1512.71,1116.26 1516.70,1116.06C1520.70,1115.86 1526.29,1114.87 1531.08,1114.27C1535.88,1113.67 1541.47,1113.07 1545.47,1112.47C1549.46,1111.87 1552.26,1111.37 1555.05,1110.67C1557.85,1109.97 1560.55,1109.17 1562.24,1108.27C1563.94,1107.38 1564.48,1106.48 1565.24,1105.28C1566.00,1104.08 1566.54,1101.78 1566.80,1101.08 M1565.84,1055.54C1565.64,1056.94 1565.00,1060.74 1564.64,1063.93C1564.28,1067.13 1563.78,1071.12 1563.68,1074.72C1563.58,1078.31 1563.68,1082.11 1564.04,1085.50C1564.40,1088.90 1565.38,1092.49 1565.84,1095.09C1566.30,1097.69 1566.64,1100.08 1566.80,1101.08 M1588.01,1057.94C1588.91,1057.94 1592.11,1057.54 1593.40,1057.94C1594.70,1058.34 1595.30,1059.60 1595.80,1060.34C1596.30,1061.07 1595.60,1061.97 1596.40,1062.37C1597.20,1062.77 1599.40,1062.07 1600.59,1062.73C1601.79,1063.39 1602.95,1064.93 1603.59,1066.33C1604.23,1067.73 1604.43,1069.62 1604.43,1071.12C1604.43,1072.62 1604.23,1074.16 1603.59,1075.32C1602.95,1076.47 1601.69,1077.57 1600.59,1078.07C1599.50,1078.57 1597.60,1078.27 1597.00,1078.31 M1597.60,1067.53C1597.62,1068.72 1597.92,1072.52 1597.72,1074.72C1597.52,1076.91 1597.12,1078.81 1596.40,1080.71C1595.68,1082.61 1594.60,1084.80 1593.40,1086.10C1592.21,1087.40 1589.91,1088.10 1589.21,1088.50 M1562.84,1108.87C1563.54,1109.27 1565.34,1110.77 1567.04,1111.27C1568.74,1111.77 1570.83,1111.77 1573.03,1111.87C1575.23,1111.97 1578.02,1111.47 1580.22,1111.87C1582.42,1112.27 1584.42,1113.17 1586.21,1114.27C1588.01,1115.37 1589.71,1117.16 1591.01,1118.46C1592.31,1119.76 1594.00,1121.16 1594.00,1122.06C1594.00,1122.96 1593.10,1123.06 1591.01,1123.85C1588.91,1124.65 1585.01,1125.75 1581.42,1126.85C1577.82,1127.95 1573.43,1129.25 1569.43,1130.45C1565.44,1131.64 1561.44,1133.24 1557.45,1134.04C1553.45,1134.84 1549.06,1135.34 1545.47,1135.24C1541.87,1135.14 1538.87,1134.54 1535.88,1133.44C1532.88,1132.34 1528.89,1129.45 1527.49,1128.65 M1488.54,1110.07C1488.04,1110.97 1487.04,1113.87 1485.54,1115.47C1484.04,1117.06 1482.15,1118.56 1479.55,1119.66C1476.95,1120.76 1473.16,1121.56 1469.96,1122.06C1466.77,1122.56 1463.27,1122.56 1460.37,1122.66C1457.48,1122.76 1453.88,1122.66 1452.58,1122.66 M1483.14,1117.86C1484.34,1118.66 1488.14,1120.96 1490.34,1122.66C1492.53,1124.35 1494.53,1126.15 1496.33,1128.05C1498.13,1129.95 1499.62,1132.64 1501.12,1134.04C1502.62,1135.44 1503.62,1135.94 1505.32,1136.44C1507.01,1136.94 1510.31,1136.94 1511.31,1137.04 M1511.91,1126.25C1511.87,1127.25 1511.57,1130.35 1511.67,1132.24C1511.77,1134.14 1511.87,1136.14 1512.51,1137.64C1513.15,1139.13 1514.01,1140.23 1515.50,1141.23C1517.00,1142.23 1518.90,1143.23 1521.50,1143.63C1524.09,1144.03 1529.49,1143.63 1531.08,1143.63 M1521.50,1116.66C1521.26,1117.46 1520.42,1119.36 1520.06,1121.46C1519.70,1123.55 1519.46,1127.95 1519.34,1129.25" fill="none" stroke="#0a0a0a" stroke-width="1.25" stroke-linecap="round" stroke-linejoin="round"/></g>
</svg>
</body></html>
